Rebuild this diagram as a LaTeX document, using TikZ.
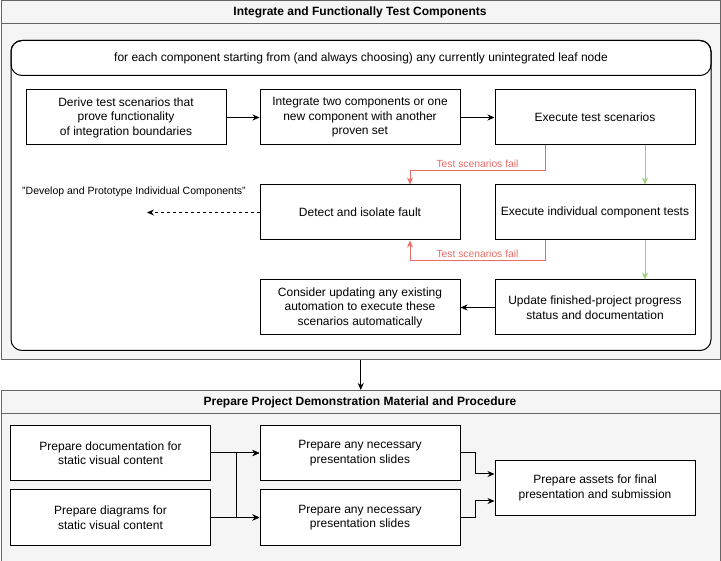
\documentclass[tikz,border=0pt]{standalone}
\usepackage{fontspec}
\setmainfont{Liberation Sans}
\usetikzlibrary{arrows.meta}
\definecolor{redc}{HTML}{EA6B66}
\definecolor{greenc}{HTML}{97D077}
\definecolor{grayb}{HTML}{666666}
\definecolor{grayf}{HTML}{F5F5F5}
\newcommand\fsbox{\fontsize{12}{14.5}\selectfont}
\newcommand\fssmall{\fontsize{10.3}{12}\selectfont}
\newcommand\fsdev{\fontsize{10.5}{12}\selectfont}
\tikzset{
  box/.style={draw, fill=white, line width=1pt, minimum width=200pt, minimum height=55pt, align=center, font=\fsbox, inner sep=0pt},
  container/.style={draw=grayb, fill=grayf, line width=1pt, anchor=north west, inner sep=0pt},
  headtext/.style={font=\fsbox\bfseries},
  arr/.style={line width=1pt, -{Stealth[length=7pt,width=6pt]}},
  redarr/.style={line width=1pt, draw=redc, -{Stealth[length=7pt,width=6pt]}},
  greenarr/.style={line width=1pt, draw=greenc, -{Stealth[length=7pt,width=6pt]}},
  redlabel/.style={font=\fssmall, text=redc, inner sep=2pt},
}
\begin{document}
\begin{tikzpicture}[x=1pt,y=-1pt]
\useasboundingbox (0,0) rectangle (721,561);
% container 1
\node[container, minimum width=719.5pt, minimum height=359pt] (c1) at (0.5,0.5) {};
\draw[grayb, line width=1pt] (0.5,24) -- (720,24);
\node[headtext] (h1) at (360,12) {Integrate and Functionally Test Components};
% inner lane
\node[draw, fill=white, line width=1pt, rounded corners=11pt, minimum width=700pt, minimum height=310pt, anchor=north west, inner sep=0pt] (lane) at (10.5,40) {};
\node[draw, line width=1pt, rounded corners=11pt, minimum width=700pt, minimum height=35pt, anchor=north west, inner sep=0pt, font=\fsbox] (lanehead) at (10.5,40) {for each component starting from (and always choosing) any currently unintegrated leaf node};
% boxes
\node[box] (A) at (126,117.5) {Derive test scenarios that\\prove functionality\\of integration boundaries};
\node[box] (B) at (360,117.5) {Integrate two components or one\\new component with another\\proven set};
\node[box] (C) at (595,117.5) {Execute test scenarios};
\node[box] (D) at (360,212.5) {Detect and isolate fault};
\node[box] (E) at (595,212.5) {Execute individual component tests};
\node[box] (F) at (360,307.5) {Consider updating any existing\\automation to execute these\\scenarios automatically};
\node[box] (G) at (595,307.5) {Update finished-project progress\\status and documentation};
\node[font=\fsdev] (dev) at (134,192) {"Develop and Prototype Individual Components"};
\coordinate (devend) at (147,212.5);
% connectors
\draw[arr] (A) -- (B);
\draw[arr] (B) -- (C);
\draw[redarr] ([xshift=-50pt]C.south) -- ([xshift=-50pt]C.south |- 0,170.5) -| ([xshift=50pt]D.north) node[pos=0.25, above, redlabel] {Test scenarios fail};
\draw[redarr] ([xshift=-50pt]E.south) -- ([xshift=-50pt]E.south |- 0,260.5) -| ([xshift=50pt]D.south) node[pos=0.25, above, redlabel] {Test scenarios fail};
\draw[greenarr] ([xshift=50pt]C.south) -- ([xshift=50pt]E.north);
\draw[greenarr] ([xshift=50pt]E.south) -- ([xshift=50pt]G.north);
\draw[arr] (G) -- (F);
\draw[arr, dashed] (D) -- (devend);
% container 2
\node[container, minimum width=719.5pt, minimum height=170.5pt] (c2) at (0.5,390) {};
\draw[grayb, line width=1pt] (0.5,414) -- (720,414);
\node[headtext] (h2) at (360,402) {Prepare Project Demonstration Material and Procedure};
\draw[arr] (c1.south) -- (c2.north);
\node[box] (P1) at (110.5,453) {Prepare documentation for\\static visual content};
\node[box] (P2) at (110.5,517.5) {Prepare diagrams for\\static visual content};
\node[box] (S1) at (360,453) {Prepare any necessary\\presentation slides};
\node[box] (S2) at (360,517.5) {Prepare any necessary\\presentation slides};
\node[box] (AS) at (595,488) {Prepare assets for final\\presentation and submission};
\draw[arr] (P1) -- (S1);
\draw[arr] (P2) -- (S2);
\draw[arr] (P1.east) -- ++(25,0) |- (S2.west);
\draw[arr] (P2.east) -- ++(25,0) |- (S1.west);
\draw[arr] (S1.east) -- ++(15,0) |- (AS.west |- 0,474);
\draw[arr] (S2.east) -- ++(15,0) |- (AS.west |- 0,501);
\end{tikzpicture}
\end{document}
